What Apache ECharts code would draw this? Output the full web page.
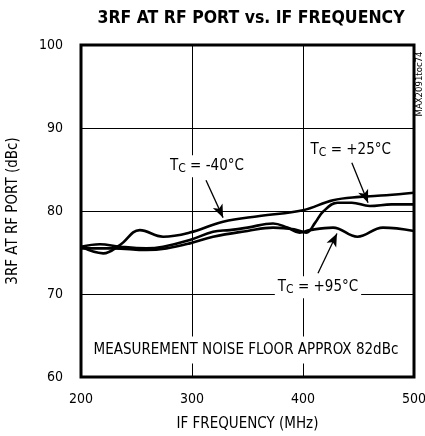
<!DOCTYPE html>
<html><head><meta charset="utf-8">
<script src="https://cdn.jsdelivr.net/npm/echarts@6/dist/echarts.min.js"></script>
<style>html,body{margin:0;padding:0;background:#fff}#c{width:425px;height:436px}</style>
</head><body><div id="c"></div>
<script>
const FONT = "'DejaVu Sans Condensed','Liberation Sans',sans-serif";
const title = '3RF AT RF PORT vs. IF FREQUENCY';
const xName = 'IF FREQUENCY (MHz)';
const yName = '3RF AT RF PORT (dBc)';
const xTicks = [200, 300, 400, 500];
const yTicks = [60, 70, 80, 90, 100];

const xM40 = [200, 220, 235, 253, 274, 298, 328, 361, 400, 427, 451, 475, 500];
const yM40 = [75.7, 74.9, 75.9, 77.7, 76.9, 77.4, 78.7, 79.4, 80.1, 81.3, 81.7, 81.9, 82.2];

const x25 = [200, 229, 259, 277, 298, 319, 350, 373, 392, 403, 411, 418, 431, 444, 460, 480, 500];
const y25 = [75.5, 75.5, 75.3, 75.5, 76.1, 76.9, 77.6, 78.0, 77.8, 77.4, 78.6, 79.9, 81.0, 81.0, 80.6, 80.8, 80.8];

const x95 = [200, 217, 235, 259, 274, 298, 319, 334, 350, 373, 386, 397, 406, 427, 449, 472, 500];
const y95 = [75.7, 76.0, 75.7, 75.5, 75.7, 76.5, 77.5, 77.7, 78.0, 78.5, 78.0, 77.4, 77.7, 78.0, 76.9, 78.0, 77.6];

const zip = (xs, ys) => xs.map((x, i) => [x, ys[i]]);
const lineStyle = {color: '#000', width: 2.6};

const chart = echarts.init(document.getElementById('c'), null, {renderer: 'canvas'});
const labelStyle = {
  show: true, color: '#000', fontFamily: FONT, fontSize: 15, backgroundColor: '#fff',
  padding: [2, 3, 2, 3],
  rich: {s: {fontFamily: FONT, fontSize: 12, color: '#000', padding: [6, 0, 0, 0]}}
};
chart.setOption({
  animation: false,
  title: {text: title, left: 246, top: 4, textAlign: 'center',
    textStyle: {fontFamily: FONT, fontWeight: 'bold', fontSize: 17.5, color: '#000'}},
  grid: {left: 81, right: 11, top: 45, bottom: 59, show: true, borderColor: '#000', borderWidth: 3,
    backgroundColor: 'transparent', outerBoundsMode: 'none', containLabel: false},
  xAxis: {type: 'value', min: 200, max: 500, interval: 100,
    name: xName, nameLocation: 'middle', nameGap: 40,
    nameTextStyle: {fontFamily: FONT, fontSize: 15, color: '#000'},
    axisLine: {show: false}, axisTick: {show: false},
    axisLabel: {margin: 15, fontFamily: FONT, fontSize: 14, color: '#000'},
    splitLine: {show: true, lineStyle: {color: '#000', width: 1}}},
  yAxis: {type: 'value', min: 60, max: 100, interval: 10,
    name: yName, nameLocation: 'middle', nameGap: 60,
    nameTextStyle: {fontFamily: FONT, fontSize: 15, color: '#000'},
    axisLine: {show: false}, axisTick: {show: false},
    axisLabel: {margin: 18, fontFamily: FONT, fontSize: 14, color: '#000'},
    splitLine: {show: true, lineStyle: {color: '#000', width: 1}}},
  series: [
    {type: 'line', name: '-40', data: zip(xM40, yM40), smooth: 0.4, showSymbol: false, lineStyle, z: 5},
    {type: 'line', name: '+25', data: zip(x25, y25), smooth: 0.4, showSymbol: false, lineStyle, z: 5},
    {type: 'line', name: '+95', data: zip(x95, y95), smooth: 0.4, showSymbol: false, lineStyle, z: 5},
    {type: 'line', name: 'ann', data: [], z: 6,
      markLine: {silent: true, symbol: ['none', 'arrow'], symbolSize: [8, 13],
        lineStyle: {color: '#000', width: 1.3, type: 'solid'}, label: {show: false},
        data: [
          [{coord: [312.6, 83.7]}, {coord: [328, 79.2]}],
          [{coord: [444, 85.8]}, {coord: [458.6, 81.0]}],
          [{coord: [413.5, 72.5]}, {coord: [430.6, 77.3]}]
        ]},
      markPoint: {silent: true, symbol: 'circle', symbolSize: 0,
        label: Object.assign({}, labelStyle, {position: 'inside'}),
        data: [
          {coord: [313.5, 85.4], label: {formatter: 'T{s|C} = -40°C'}},
          {coord: [443, 87.35], label: {formatter: 'T{s|C} = +25°C'}},
          {coord: [413.5, 70.8], label: {formatter: 'T{s|C} = +95°C'}},
          {coord: [348.6, 63.25], label: {formatter: 'MEASUREMENT NOISE FLOOR APPROX 82dBc', padding: [6, 4, 6, 4]}}
        ]}
    }
  ],
  graphic: [{type: 'text', x: 415, y: 84, rotation: Math.PI / 2,
    style: {text: 'MAX2091toc74', fontFamily: FONT, fontSize: 9.5, fill: '#000', align: 'center', verticalAlign: 'top'}}]
});
</script></body></html>
